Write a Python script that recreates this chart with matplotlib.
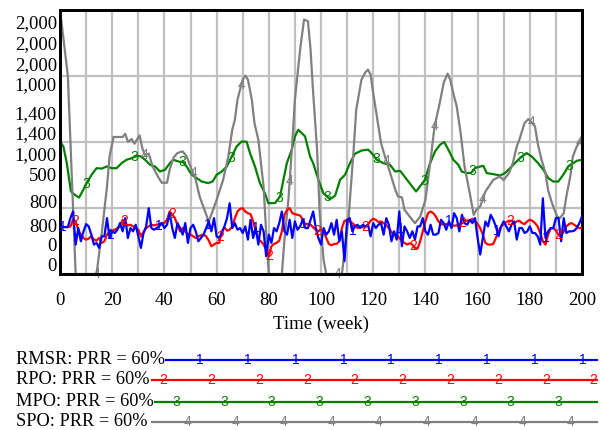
import numpy as np
import matplotlib
matplotlib.use("Agg")
import matplotlib.pyplot as plt
from matplotlib.lines import Line2D

# ---------------- data ----------------
weeks = np.arange(0, 201)

# RMSR (blue) and RPO (red), read on a 0-800 scale
rmsr = [142,142,142,142,169,189,89,139,99,129,
        151,144,119,89,94,79,114,114,169,109,
        129,124,134,154,129,169,109,139,129,149,
        114,79,124,144,199,139,134,139,144,154,
        139,149,184,139,109,154,139,119,154,94,
        139,149,129,99,109,119,139,159,129,169,
        114,109,124,144,169,214,139,154,134,139,
        124,144,104,164,109,139,89,149,129,54,
        119,94,139,129,154,189,129,119,164,109,
        159,134,144,164,139,139,164,189,139,109,
        89,139,119,129,154,119,164,99,129,39,
        164,169,129,144,149,139,149,144,149,114,
        154,139,149,154,119,169,149,99,129,104,
        189,84,144,129,109,129,104,144,144,169,
        129,119,149,119,119,124,164,154,134,159,
        139,184,169,129,179,154,149,164,154,169,
        109,59,109,159,144,179,164,144,114,144,
        159,144,129,149,159,104,139,139,124,129,
        144,124,124,114,89,229,109,129,139,139,
        169,169,99,169,124,129,129,131,139,154,
        174]

rpo = [142,142,142,142,144,164,159,134,119,109,
       104,107,114,104,101,109,94,99,119,129,
       131,134,139,144,164,154,147,149,144,139,
       134,114,127,139,144,149,147,149,151,154,
       154,164,189,181,169,149,129,139,129,121,
       119,114,109,114,117,119,114,101,84,89,
       94,94,129,141,131,134,144,169,189,197,
       199,189,184,181,159,131,104,99,89,74,
       54,84,91,94,101,129,179,194,199,184,
       181,179,177,164,151,151,149,141,134,129,
       134,129,109,91,87,91,91,99,139,161,
       163,159,154,147,139,144,141,142,149,161,
       167,164,157,159,154,147,139,127,119,117,
       109,99,94,89,93,89,79,77,99,129,
       159,184,189,184,174,159,151,149,151,151,
       147,146,147,149,154,159,162,161,167,161,
       151,139,119,94,89,89,91,109,129,144,
       151,157,161,161,154,159,161,154,151,159,
       164,161,154,144,124,99,89,119,137,139,
       131,119,114,129,144,151,154,149,144,139,
       139]

# MPO (green), read on a 0-2000 scale
mpo_t = [0,1.3,2.6,4.2,5.7,7.3,8.9,10.2,12.1,14,16,17.9,19.8,21.7,23.6,25.5,27.5,29.4,31,32.6,
         34.5,36.4,38.3,40.2,42.1,43.4,45.3,47.2,48.5,50.5,52,54.3,56.8,58.5,60,62,63.9,65.8,67.7,69.6,
         71.5,72.8,74.7,76.6,78.5,79.8,82.4,84.3,85.6,86.9,88.8,90,91.3,92.6,93.9,95.8,97,99,100.9,103.4,
         105.4,107.3,109.2,111.1,113,115.6,118.1,119.4,121.3,123.9,126.4,128.4,130.3,131.5,133.5,135.4,136.4,137.9,139.8,141.8,
         143.7,145.6,147.2,148.8,150.7,152.6,153.9,155.8,157.5,159,160.5,162.2,163.5,166,168.6,170.5,172.4,174.3,176.2,178.8,
         180.7,183.2,185.2,187.1,189,190.9,192.8,194.7,196.7,198,200]
mpo = [1002,964,838,624,598,578,636,687,750,800,797,813,800,800,838,864,876,894,889,864,
       826,813,775,788,838,864,851,845,813,750,730,699,687,700,750,775,813,889,965,1002,
       1000,914,813,687,611,536,536,586,712,838,940,1040,1091,1066,1040,889,838,712,611,565,
       592,712,750,838,909,934,940,914,864,838,826,775,780,750,699,649,624,661,712,838,
       927,977,998,940,864,826,775,763,765,800,810,818,763,755,745,763,800,838,876,914,
       889,838,788,725,699,699,750,813,838,856,864]

# SPO (gray), read on a 0-2000 scale
spo_t = [0,3,6,14,16,18,19,20.5,24,25,26,27.5,28.5,30.5,31.5,32.5,34,35.5,37.5,39,
         41,42,43.5,45,47,48.5,50,52,53.5,57,60,62.5,64.5,66,67,68,70,71,72,73.5,
         74.5,76,78,79,80,85,86,87.5,89,90,92,93.5,95,96,97,98.5,99.5,101,102,108,
         110.5,112.5,113.5,115.5,117,118,119,120,122,123,124.5,126.5,128.5,129.5,131,132,134,136,138,140,
         142,143.5,145.5,147,148.5,149.5,151,152,153.5,155,157,158.5,159.5,161,163,166,168.5,170,172,173.5,
         175,176,178,179.5,180.5,182,183,184.5,186,187,188.5,190.5,191.5,193,194,195.5,196.5,198,200]
spo = [2000,1500,0,0,310,660,890,1036,1036,1060,1000,1020,985,1048,955,900,910,813,737,690,
       690,788,880,915,927,890,813,712,586,396,560,712,889,1091,1167,1318,1470,1500,1470,1318,
       1142,1015,661,310,0,0,258,560,990,1318,1697,1924,1912,1697,1369,940,460,106,0,0,
       409,940,1242,1470,1525,1545,1508,1369,1116,990,889,763,636,586,580,485,434,384,434,560,
       864,1116,1293,1445,1515,1470,1343,1267,1066,813,611,447,485,510,624,712,737,710,763,838,
       965,1015,1142,1172,1150,1116,990,864,763,636,536,434,422,460,586,737,889,965,1028]

series_names = ["RMSR: PRR = 60%", "RPO: PRR = 60%", "MPO: PRR = 60%", "SPO: PRR = 60%"]
ytick_labels = ["2,000", "2,000", "2,000", "1,000", "1,400", "1,400", "1,000", "500",
                "800", "800", "0", "0"]
xtick_values = list(range(0, 201, 20))
xlabel = "Time (week)"

# ---------------- layout / style ----------------
W, H = 600, 430
colors = ["#0000ff", "#ff0000", "#008000", "#808080"]
digits = ["1", "2", "3", "4"]
serif = ["Liberation Serif", "DejaVu Serif"]
sans = ["Liberation Sans", "DejaVu Sans"]

ax_left, ax_right, ax_top, ax_bottom = 60, 582, 9.5, 274
ylabel_pix = [24, 44.3, 65.7, 86, 115, 135, 155.7, 176.7, 204, 227.7, 246.7, 266.7]
marker_start = [1, 6, 10, 14]
marker_step = 18.5
legend_rows = [360, 380, 402, 422]
legend_line_start = [166, 151.7, 155, 151.7]
legend_marker_start = [200, 163.3, 176, 187.7]
legend_marker_step = 47.8

fig = plt.figure(figsize=(W / 100, H / 100), dpi=100)
ax = fig.add_axes([ax_left / W, 1 - ax_bottom / H, (ax_right - ax_left) / W, (ax_bottom - ax_top) / H])
ax.set_xlim(0, 200)
ax.set_ylim(0, 2000)
ax.set_yticks([0, 500, 1000, 1500, 2000])
ax.set_yticklabels([])
ax.set_xticks(range(0, 201, 10))
ax.set_xticklabels([str(v) if v in xtick_values else "" for v in range(0, 201, 10)],
                   fontfamily=serif, fontsize=13.5)
ax.tick_params(axis="both", length=0, pad=13)
ax.grid(True, color="#c0c0c0", lw=1.6)
ax.set_axisbelow(True)
for s in ax.spines.values():
    s.set_linewidth(2)
    s.set_color("black")
ax.set_xlabel(xlabel, fontfamily=serif, fontsize=13.5, labelpad=5)

ax2 = ax.twinx()
ax2.set_ylim(0, 800)
ax2.set_yticks([])
ax2.patch.set_visible(False)
for s in ax2.spines.values():
    s.set_linewidth(2)
    s.set_color("black")

# lines
ax.plot(mpo_t, mpo, color=colors[2], lw=1.6, zorder=3)
ax.plot(spo_t, spo, color=colors[3], lw=1.6, zorder=3)
ax2.plot(weeks, rpo, color=colors[1], lw=1.6, zorder=3)
ax2.plot(weeks, rmsr, color=colors[0], lw=1.6, zorder=4)

# series number markers
def put_markers(a, xs, ys, k):
    t = marker_start[k]
    while t <= 200.5:
        a.text(t, np.interp(t, xs, ys), digits[k], color=colors[k], fontsize=10,
               fontfamily=sans, ha="center", va="center", zorder=5)
        t += marker_step

put_markers(ax2, weeks, rmsr, 0)
put_markers(ax2, weeks, rpo, 1)
put_markers(ax, mpo_t, mpo, 2)
put_markers(ax, spo_t, spo, 3)

# stacked y labels
for lab, yp in zip(ytick_labels, ylabel_pix):
    fig.text(57 / W, 1 - yp / H, lab, ha="right", va="center", fontsize=13.5, fontfamily=serif)

# legend
for k in range(4):
    yy = 1 - legend_rows[k] / H
    fig.text(16 / W, yy, series_names[k], ha="left", va="center", fontsize=13.2, fontfamily=serif)
    fig.add_artist(Line2D([legend_line_start[k] / W, 597 / W], [yy, yy],
                          transform=fig.transFigure, color=colors[k], lw=1.6))
    xm = legend_marker_start[k]
    while xm <= 600:
        fig.text(xm / W, yy, digits[k], color=colors[k], fontsize=10, fontfamily=sans,
                 ha="center", va="center")
        xm += legend_marker_step

fig.savefig("out.png", dpi=100)
